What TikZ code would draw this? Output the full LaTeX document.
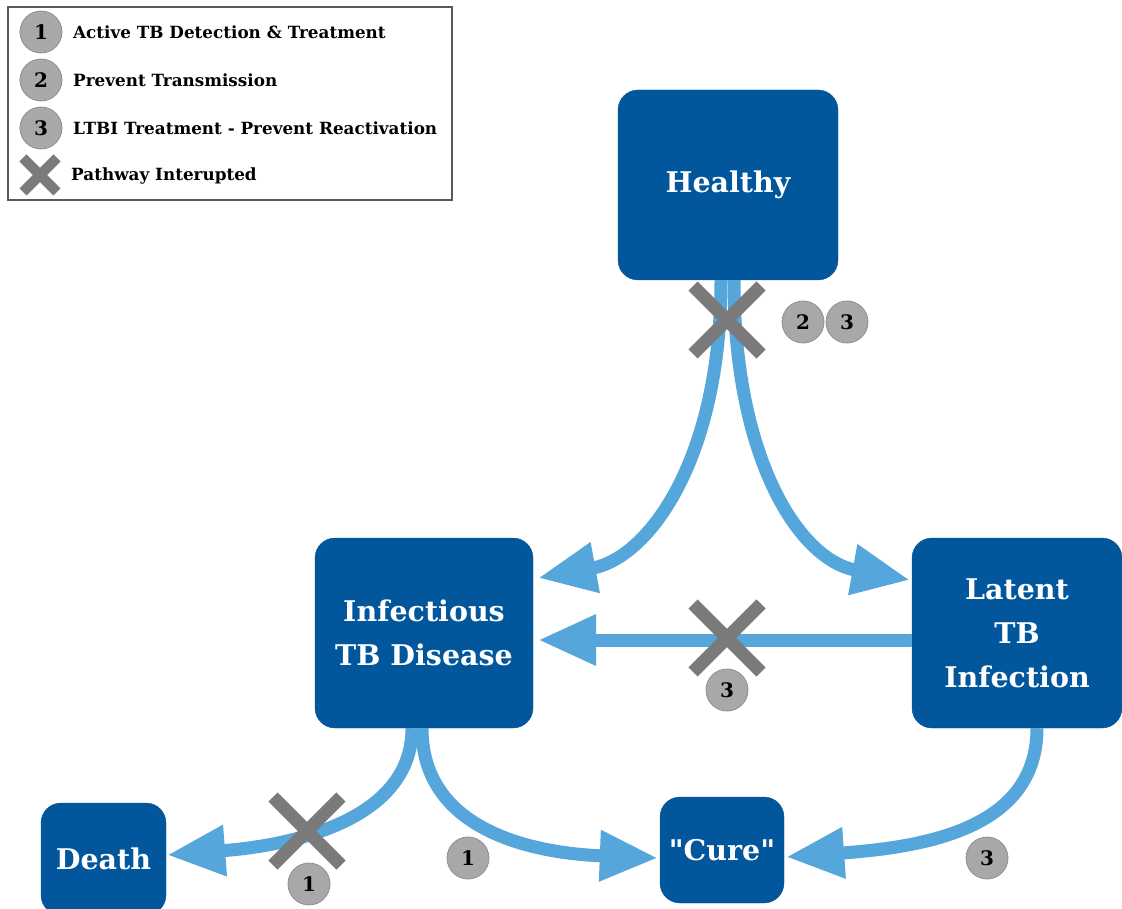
\documentclass[tikz,border=0pt]{standalone}
\usepackage{fontspec}
\setmainfont{DejaVu Serif}
\newfontfamily\plainquotes{DejaVu Serif}[Ligatures=TeXOff]
\usetikzlibrary{arrows.meta,calc}
\definecolor{boxblue}{HTML}{02569B}
\definecolor{arrowblue}{HTML}{55A6DB}
\definecolor{xgray}{HTML}{7A7A7A}
\definecolor{badgefill}{HTML}{A8A8A8}
\definecolor{badgeedge}{HTML}{8F8F8F}
\definecolor{legendedge}{HTML}{595959}
\begin{document}
\begin{tikzpicture}[x=1pt,y=-1pt,
  box/.style={fill=boxblue, draw=boxblue, rounded corners=20pt, text=white,
    font=\bfseries\fontsize{28.5}{44}\selectfont, align=center, inner sep=0pt},
  badge/.style={circle, fill=badgefill, draw=badgeedge, line width=0.8pt,
    minimum size=42pt, inner sep=0pt, font=\bfseries\fontsize{20}{20}\selectfont},
  flow/.style={draw=arrowblue, line width=13pt, -{Triangle[length=58pt,width=48pt]}},
  crossline/.style={draw=xgray, line width=13pt},
  legtext/.style={anchor=west, inner sep=0pt, font=\bfseries\fontsize{16.8}{18}\selectfont},
  crossmark/.pic={\draw[crossline] (-34,-34) -- (34,34) (-34,34) -- (34,-34);}
]
\useasboundingbox (0,0) rectangle (1122,909);

% legend
\node[draw=legendedge, line width=1.5pt, minimum width=444pt, minimum height=193pt, inner sep=0pt] (legend) at (230,103.5) {};
\node[badge] (l1) at (41,32) {1};
\node[badge] (l2) at (41,80) {2};
\node[badge] (l3) at (41,128) {3};
\coordinate (l4) at (40,175);
\draw[draw=xgray, line width=10pt] ($(l4)+(-17,-17)$) -- ($(l4)+(17,17)$) ($(l4)+(-17,17)$) -- ($(l4)+(17,-17)$);
\node[legtext] (t1) at (73,32) {Active TB Detection \& Treatment};
\node[legtext] (t2) at (73,80) {Prevent Transmission};
\node[legtext] (t3) at (73,128) {LTBI Treatment - Prevent Reactivation};
\node[legtext] (t4) at (71,176) {Pathway Interupted};

% boxes
\node[box, minimum width=220pt, minimum height=190pt] (healthy) at (728,185) {Healthy};
\node[box, minimum width=218pt, minimum height=190pt] (infect) at (424,633) {Infectious\\TB Disease};
\node[box, minimum width=210pt, minimum height=190pt] (latent) at (1017,633) {Latent\\TB\\Infection};
\node[box, minimum width=125pt, minimum height=112pt] (death) at (103.5,859) {Death};
\node[box, minimum width=124pt, minimum height=106pt] (cure) at (722,850) {{\plainquotes\bfseries "Cure"}};

% connectors
\draw[flow] ($(healthy.south)+(-7,0)$) .. controls +(0,180) and +(110,-20) .. ($(infect.east)+(5,-55)$);
\draw[flow] ($(healthy.south)+(6,0)$) .. controls +(0,180) and +(-110,-20) .. ($(latent.west)+(-2,-53)$);
\draw[flow] ($(latent.west)+(0,7)$) -- ($(infect.east)+(5,7)$);
\draw[flow] ($(infect.south)+(-12,0)$) .. controls +(0,90) and +(130,-10) .. ($(death.east)+(1,-4)$);
\draw[flow] ($(infect.south)+(-2,0)$) .. controls +(0,100) and +(-130,-5) .. ($(cure.west)+(-2,8)$);
\draw[flow] ($(latent.south)+(20,0)$) .. controls +(0,100) and +(140,-10) .. ($(cure.east)+(2,7)$);

% crosses
\pic at (727,320) {crossmark};
\pic at (727,638) {crossmark};
\pic at (307,831) {crossmark};

% badges
\node[badge] (b2) at (803,322) {2};
\node[badge] (b3) at (847,322) {3};
\node[badge] (b3b) at (727,690) {3};
\node[badge] (b1) at (309,884) {1};
\node[badge] (b1b) at (468,858) {1};
\node[badge] (b3c) at (987,858) {3};
\end{tikzpicture}
\end{document}
